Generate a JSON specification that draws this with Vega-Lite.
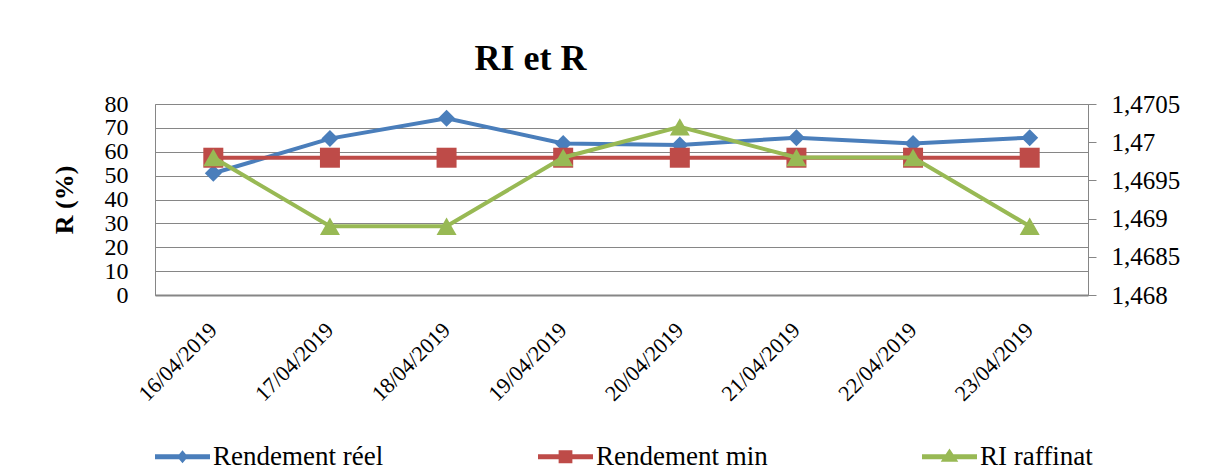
{
  "$schema": "https://vega.github.io/schema/vega-lite/v6.json",
  "autosize": {"type": "none"},
  "width": 933,
  "height": 191,
  "padding": {"left": 155, "top": 104, "right": 123, "bottom": 176},
  "background": "white",
  "title": {
    "text": "RI et R",
    "font": "Liberation Serif",
    "fontSize": 36,
    "fontWeight": "bold",
    "color": "#000000",
    "anchor": "middle",
    "dx": -91,
    "baseline": "alphabetic",
    "offset": -14
  },
  "data": {
    "values": [
      {"date": "16/04/2019", "serie": "Rendement réel", "valeur": 51},
      {"date": "17/04/2019", "serie": "Rendement réel", "valeur": 65.5},
      {"date": "18/04/2019", "serie": "Rendement réel", "valeur": 74},
      {"date": "19/04/2019", "serie": "Rendement réel", "valeur": 63.5},
      {"date": "20/04/2019", "serie": "Rendement réel", "valeur": 62.8},
      {"date": "21/04/2019", "serie": "Rendement réel", "valeur": 65.9},
      {"date": "22/04/2019", "serie": "Rendement réel", "valeur": 63.5},
      {"date": "23/04/2019", "serie": "Rendement réel", "valeur": 65.9},
      {"date": "16/04/2019", "serie": "Rendement min", "valeur": 57.5},
      {"date": "17/04/2019", "serie": "Rendement min", "valeur": 57.5},
      {"date": "18/04/2019", "serie": "Rendement min", "valeur": 57.5},
      {"date": "19/04/2019", "serie": "Rendement min", "valeur": 57.5},
      {"date": "20/04/2019", "serie": "Rendement min", "valeur": 57.5},
      {"date": "21/04/2019", "serie": "Rendement min", "valeur": 57.5},
      {"date": "22/04/2019", "serie": "Rendement min", "valeur": 57.5},
      {"date": "23/04/2019", "serie": "Rendement min", "valeur": 57.5},
      {"date": "16/04/2019", "serie": "RI raffinat", "valeur": 1.4698},
      {"date": "17/04/2019", "serie": "RI raffinat", "valeur": 1.4689},
      {"date": "18/04/2019", "serie": "RI raffinat", "valeur": 1.4689},
      {"date": "19/04/2019", "serie": "RI raffinat", "valeur": 1.4698},
      {"date": "20/04/2019", "serie": "RI raffinat", "valeur": 1.4702},
      {"date": "21/04/2019", "serie": "RI raffinat", "valeur": 1.4698},
      {"date": "22/04/2019", "serie": "RI raffinat", "valeur": 1.4698},
      {"date": "23/04/2019", "serie": "RI raffinat", "valeur": 1.4689}
    ]
  },
  "encoding": {
    "x": {
      "field": "date",
      "type": "ordinal",
      "sort": null,
      "title": null,
      "scale": {"type": "band", "paddingInner": 0, "paddingOuter": 0},
      "axis": {
        "labelAngle": -45,
        "labelAlign": "right",
        "labelBaseline": "middle",
        "labelPadding": 31,
        "labelFontSize": 22,
        "labelFont": "Liberation Serif",
        "labelColor": "#000000",
        "labelOverlap": false,
        "ticks": false,
        "domainColor": "#868686",
        "domainWidth": 2,
        "grid": false
      }
    },
    "color": {
      "field": "serie",
      "type": "nominal",
      "scale": {
        "domain": ["Rendement réel", "Rendement min", "RI raffinat"],
        "range": ["#4A7EBB", "#BE4B48", "#98B954"]
      },
      "legend": {
        "title": null,
        "orient": "bottom",
        "direction": "horizontal",
        "offset": 24,
        "padding": 0,
        "columnPadding": 154,
        "labelFont": "Liberation Serif",
        "labelFontSize": 27,
        "labelColor": "#000000",
        "labelOffset": 3,
        "labelLimit": 400,
        "symbolSize": 3025,
        "encode": {
          "symbols": {
            "update": {
              "shape": {"signal": "datum.value === 'Rendement réel' ? 'M-1,-0.09H1V0.09H-1Z M0,-0.24L0.2,0L0,0.24L-0.2,0Z' : datum.value === 'Rendement min' ? 'M-1,-0.09H1V0.09H-1Z M-0.25,-0.24H0.25V0.24H-0.25Z' : 'M-1,-0.09H1V0.09H-1Z M0,-0.3L0.32,0.18H-0.32Z'"},
              "fill": {"signal": "scale('color', datum.value)"},
              "fillOpacity": {"value": 1},
              "strokeWidth": {"value": 0},
              "opacity": {"value": 1}
            }
          }
        }
      }
    }
  },
  "layer": [
    {
      "encoding": {
        "y": {
          "field": "valeur",
          "type": "quantitative",
          "title": "R (%)",
          "scale": {"domain": [0, 80], "nice": false, "zero": false},
          "axis": {
            "orient": "left",
            "values": [0, 10, 20, 30, 40, 50, 60, 70, 80],
            "labelOverlap": false,
            "ticks": false,
            "domain": false,
            "grid": true,
            "gridColor": "#868686",
            "gridWidth": 1,
            "labelPadding": 27,
            "labelFont": "Liberation Serif",
            "labelFontSize": 24,
            "labelColor": "#000000",
            "titleFont": "Liberation Serif",
            "titleFontSize": 26,
            "titleFontWeight": "bold",
            "titleColor": "#000000",
            "titlePadding": 27
          }
        }
      },
      "layer": [
        {
          "transform": [{"filter": "datum.serie === 'Rendement réel'"}],
          "mark": {"type": "line", "strokeWidth": 4}
        },
        {
          "transform": [{"filter": "datum.serie === 'Rendement réel'"}],
          "mark": {"type": "point", "shape": "diamond", "size": 289, "filled": true, "opacity": 1}
        },
        {
          "transform": [{"filter": "datum.serie === 'Rendement min'"}],
          "mark": {"type": "line", "strokeWidth": 4}
        },
        {
          "transform": [{"filter": "datum.serie === 'Rendement min'"}],
          "mark": {"type": "point", "shape": "square", "size": 400, "filled": true, "opacity": 1}
        }
      ]
    },
    {
      "encoding": {
        "y": {
          "field": "valeur",
          "type": "quantitative",
          "title": null,
          "scale": {"domain": [1.468, 1.4705], "nice": false, "zero": false},
          "axis": {
            "orient": "right",
            "values": [1.468, 1.4685, 1.469, 1.4695, 1.47, 1.4705],
            "format": ".4~f",
            "labelOverlap": false,
            "grid": false,
            "ticks": true,
            "tickSize": 8,
            "tickColor": "#868686",
            "domain": true,
            "domainColor": "#868686",
            "labelPadding": 15,
            "labelFont": "Liberation Serif",
            "labelFontSize": 25,
            "labelColor": "#000000"
          }
        }
      },
      "layer": [
        {
          "transform": [{"filter": "datum.serie === 'RI raffinat'"}],
          "mark": {"type": "line", "strokeWidth": 4}
        },
        {
          "transform": [{"filter": "datum.serie === 'RI raffinat'"}],
          "mark": {"type": "point", "shape": "triangle-up", "size": 400, "filled": true, "opacity": 1}
        }
      ]
    }
  ],
  "resolve": {"scale": {"y": "independent"}},
  "config": {
    "font": "Liberation Serif",
    "view": {"stroke": "#868686", "strokeWidth": 1},
    "locale": {
      "number": {"decimal": ",", "thousands": " ", "grouping": [3], "currency": ["", " €"]}
    }
  }
}
